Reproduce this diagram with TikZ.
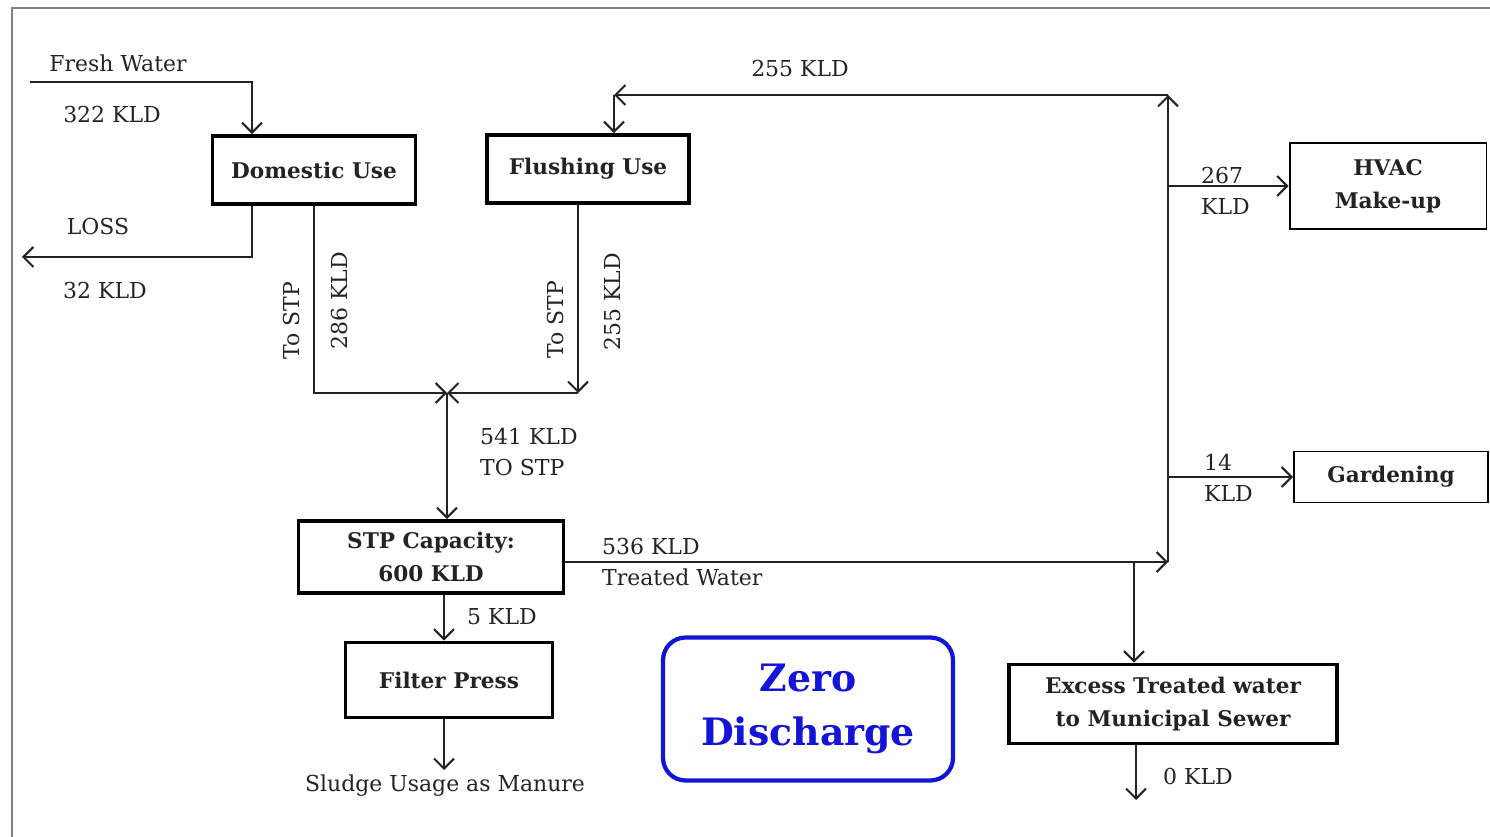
\documentclass[tikz,border=0pt]{standalone}
\usepackage{fontspec}
\setmainfont{DejaVu Serif}
\usepackage{xcolor}
\usepackage{tikz}
\usetikzlibrary{arrows.meta,positioning}
\definecolor{corlinha}{RGB}{35,35,35}
\definecolor{corcinza}{RGB}{130,130,130}
\definecolor{corazul}{RGB}{20,20,215}

\begin{document}
\begin{tikzpicture}[
  x=0.02cm, y=-0.02cm,
  every node/.style={font=\fontsize{12.5}{18}\selectfont, text=corlinha},
  caixa/.style={rectangle, draw=black, line width=2.2pt, align=center,
                inner sep=0pt, font=\fontsize{12.3}{19}\selectfont\bfseries},
  caixafina/.style={caixa, line width=1.1pt},
  seta/.style={-{Straight Barb[length=2mm, width=4mm]}, line width=1.15pt, draw=corlinha},
  rotulo/.style={align=left, anchor=west}
]
  \useasboundingbox (0,0) rectangle (1490,837);
  \draw[corcinza, line width=0.8pt] (12,837) -- (12,8) -- (1490,8);

  % caixas
  \node[caixa, minimum width=4.06cm, minimum height=1.36cm] (dom) at (314,170) {Domestic Use};
  \node[caixa, minimum width=4.04cm, minimum height=1.36cm] (flush) at (588,169) {Flushing Use};
  \node[caixa, minimum width=5.3cm, minimum height=1.44cm] (stp) at (431,557) {STP Capacity:\\ 600 KLD};
  \node[caixa, minimum width=4.14cm, minimum height=1.5cm] (filtro) at (449,680) {Filter Press};
  \node[caixafina, minimum width=3.94cm, minimum height=1.72cm] (hvac) at (1388,186) {HVAC\\ Make-up};
  \node[caixafina, minimum width=3.88cm, minimum height=1.02cm] (jardim) at (1391,477) {Gardening};
  \node[caixa, minimum width=6.56cm, minimum height=1.58cm] (excesso) at (1173,704) {Excess Treated water\\ to Municipal Sewer};
  \node[draw=corazul, line width=2.4pt, rounded corners=0.45cm, minimum width=5.8cm,
        minimum height=2.86cm, align=center, text=corazul,
        font=\fontsize{21.5}{31}\selectfont\bfseries] (zero) at (808,709) {Zero\\ Discharge};

  % pontos de ligacao
  \coordinate (fwini) at (30,82);
  \coordinate (fwcanto) at (252,82);
  \coordinate (perda) at (22,257);
  \coordinate (juncao) at (447,393);
  \coordinate (fcanto) at (578,393);
  \coordinate (lodo) at (444,770);
  \coordinate (tratada) at (1168,562);
  \coordinate (topo) at (1168,95);
  \coordinate (retorno) at (614,95);
  \coordinate (desvio) at (1134,562);
  \coordinate (esgoto) at (1136,800);

  % ligacoes
  \draw[seta] (fwini) -- (fwcanto) -- (fwcanto |- dom.north);
  \draw[seta] (dom.south -| fwcanto) |- (perda);
  \draw[seta] (dom.south) |- (juncao);
  \draw[seta] (flush.south -| fcanto) -- (fcanto);
  \draw[seta] (fcanto) -- (juncao);
  \draw[seta] (juncao) -- (juncao |- stp.north);
  \draw[seta] (stp.south -| lodo) -- (filtro.north -| lodo);
  \draw[seta] (filtro.south -| lodo) -- (lodo);
  \draw[seta] (stp.east |- tratada) -- (tratada);
  \draw[seta] (tratada) -- (topo);
  \draw[seta] (topo) -- (retorno);
  \draw[seta] (retorno) -- (retorno |- flush.north);
  \draw[seta] (tratada |- hvac) -- (hvac.west);
  \draw[seta] (tratada |- jardim) -- (jardim.west);
  \draw[seta] (desvio) -- (desvio |- excesso.north);
  \draw[seta] (excesso.south -| esgoto) -- (esgoto);

  % textos
  \node (tfresh) at (118,63) {Fresh Water};
  \node (t322) at (112,115) {322 KLD};
  \node (tloss) at (98,227) {LOSS};
  \node (t32) at (105,291) {32 KLD};
  \node[rotate=90] (tstpa) at (292,321) {To STP};
  \node[rotate=90] (t286) at (340,301) {286 KLD};
  \node[rotate=90] (tstpb) at (555,320) {To STP};
  \node[rotate=90] (t255a) at (612,302) {255 KLD};
  \node (t255b) at (800,69) {255 KLD};
  \node[rotulo] (t541) at (474,452) {541 KLD\\ TO STP};
  \node[rotulo] (t536) at (596,562) {536 KLD\\ Treated Water};
  \node (t5) at (502,617) {5 KLD};
  \node (tlodo) at (445,786) {Sludge Usage as Manure};
  \node[rotulo] (t267) at (1195,191) {267\\ KLD};
  \node[rotulo] (t14) at (1198,478) {14\\ KLD};
  \node (t0) at (1198,777) {0 KLD};
\end{tikzpicture}
\end{document}
